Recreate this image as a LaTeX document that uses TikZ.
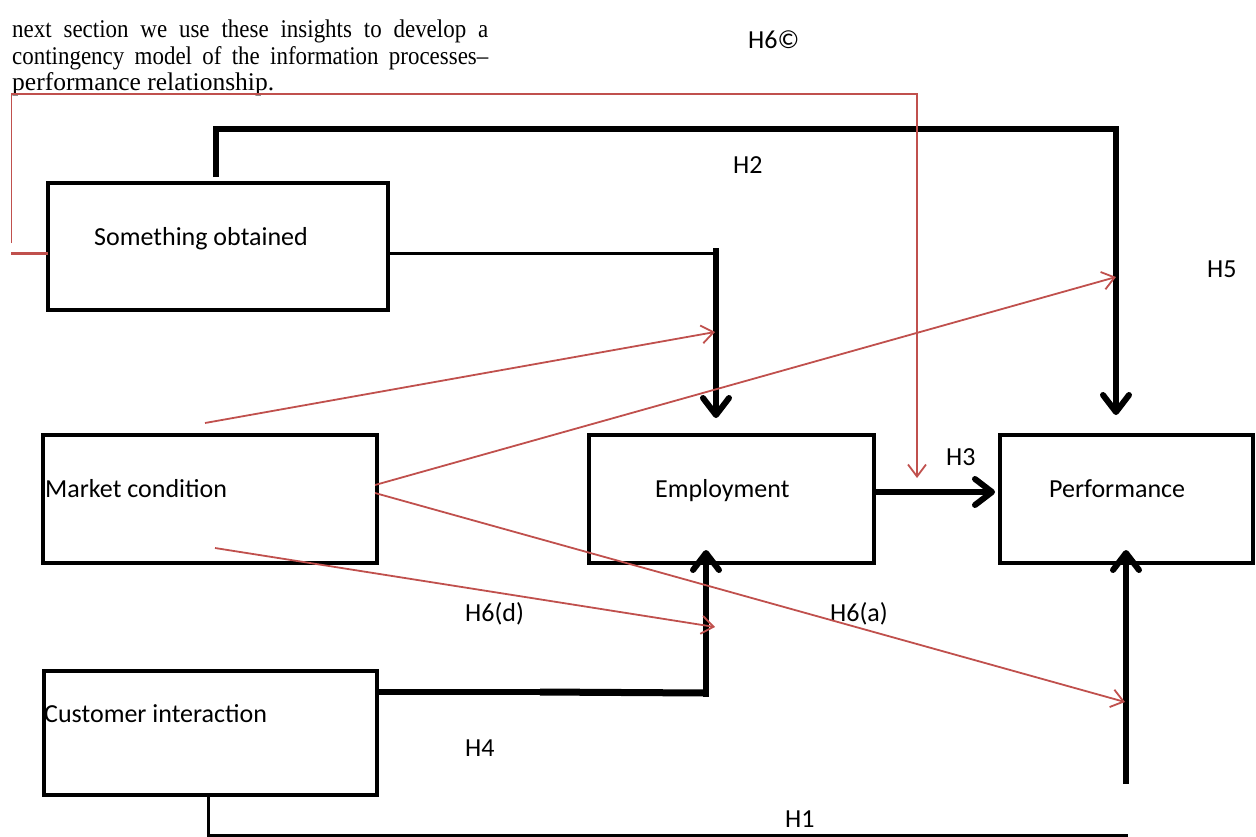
\documentclass[tikz,border=0pt]{standalone}
\usepackage{fontspec}
\setmainfont{Carlito}
\newfontfamily\seriffont{Liberation Serif}
\usetikzlibrary{arrows.meta,calc}
\definecolor{hred}{HTML}{C0504D}
\begin{document}
\begin{tikzpicture}[x=1pt,y=-1pt,
  box/.style={draw=black, line width=3.5pt, inner sep=0pt, outer sep=0pt, rectangle},
  lbl/.style={font=\fontsize{26}{30}\selectfont, inner sep=0pt, anchor=base west},
  para/.style={font=\seriffont\fontsize{25.5}{29}\selectfont, inner sep=0pt, anchor=base west},
  blkarrow/.style={line width=6pt, black, -{Straight Barb[length=17pt,width=26pt,round]}},
  redarrow/.style={draw=hred, line width=1.8pt, -{Straight Barb[length=12pt,width=18pt]}},
]
\useasboundingbox (0,0) rectangle (1256,836);

% paragraph text
\node[para] (p1) at (12,37) {\scalebox{0.9}[1]{\makebox[529pt][s]{next section we use these insights to develop a}}};
\node[para] (p2) at (12,64) {\scalebox{0.9}[1]{\makebox[529pt][s]{contingency model of the information processes–}}};
\node[para] (p3) at (12,90.5) {performance relationship.};

% boxes
\node[box, minimum width=340pt, minimum height=127pt] (so) at (218,246.5) {};
\node[box, minimum width=334pt, minimum height=128pt] (mc) at (210,499) {};
\node[box, minimum width=285pt, minimum height=128pt] (em) at (731.5,499) {};
\node[box, minimum width=253pt, minimum height=128pt] (pf) at (1126.5,499) {};
\node[box, minimum width=333pt, minimum height=124pt] (ci) at (210.5,733) {};

% box texts
\node[lbl] (so-t) at (94,245) {Something obtained};
\node[lbl] (mc-t) at (45,497) {Market condition};
\node[lbl] (em-t) at (655,497) {Employment};
\node[lbl] (pf-t) at (1049,497) {Performance};
\node[lbl] (ci-t) at (44,722) {Customer interaction};

% hypothesis labels
\node[lbl] (h6c) at (748,48) {H6©};
\node[lbl] (h2) at (733,173) {H2};
\node[lbl] (h5) at (1207,277) {H5};
\node[lbl] (h3) at (946,465) {H3};
\node[lbl] (h6d) at (465,621) {H6(d)};
\node[lbl] (h6a) at (830,621) {H6(a)};
\node[lbl] (h4) at (465,756) {H4};
\node[lbl] (h1) at (785,827) {H1};

% helper coordinates
\coordinate (c1) at (716,253);
\coordinate (h4a) at (540,692);
\coordinate (h4b) at (706,693);
\coordinate (h1end) at (1127.5,835);
\coordinate (pfbot) at (1126,784);
\coordinate (r0) at (11.5,243);
\coordinate (t1) at (715,332);
\coordinate (t5) at (1116,277);
\coordinate (t6a) at (1125,702);
\coordinate (t6d) at (715,627);

% H2
\draw[blkarrow] ([xshift=-2pt,yshift=6pt]so.north) -- ++(0,-48) -| ([xshift=-10.5pt,yshift=20pt]pf.north);
% something obtained -> employment
\draw[line width=3pt] ([yshift=-6.5pt]so.east) -- (c1);
\draw[blkarrow] ([yshift=5pt]c1) -- ([xshift=-15.5pt,yshift=17pt]em.north);
% H3
\draw[blkarrow] ([xshift=-2pt,yshift=7pt]em.east) -- ([xshift=-5pt,yshift=7pt]pf.west);
% H4
\draw[line width=5.5pt] ([yshift=41pt]ci.east) -- (h4a);
\draw[line width=7pt] (h4a) -- (h4b);
\draw[blkarrow] ([yshift=-3.5pt]h4b) -- ([xshift=-25.5pt,yshift=13pt]em.south);
% H1
\draw[line width=3pt] ([xshift=-2.5pt]ci.south) |- (h1end);
\draw[blkarrow] (pfbot) -- ([xshift=-0.5pt,yshift=13pt]pf.south);

% red moderating arrows
\draw[hred, line width=3pt] ([yshift=-6.5pt]so.west) -- ++(-37,0);
\draw[redarrow] (r0) -- ++(0,-149) -| ([xshift=43pt,yshift=21pt]em.east);
\draw[redarrow] ([xshift=-5pt,yshift=12pt]mc.north) -- (t1);
\draw[redarrow] ([xshift=-2pt,yshift=14pt]mc.east) -- (t5);
\draw[redarrow] ([xshift=-2pt,yshift=6pt]mc.east) -- (t6a);
\draw[redarrow] ([xshift=5pt,yshift=15pt]mc.south) -- (t6d);
\end{tikzpicture}
\end{document}
